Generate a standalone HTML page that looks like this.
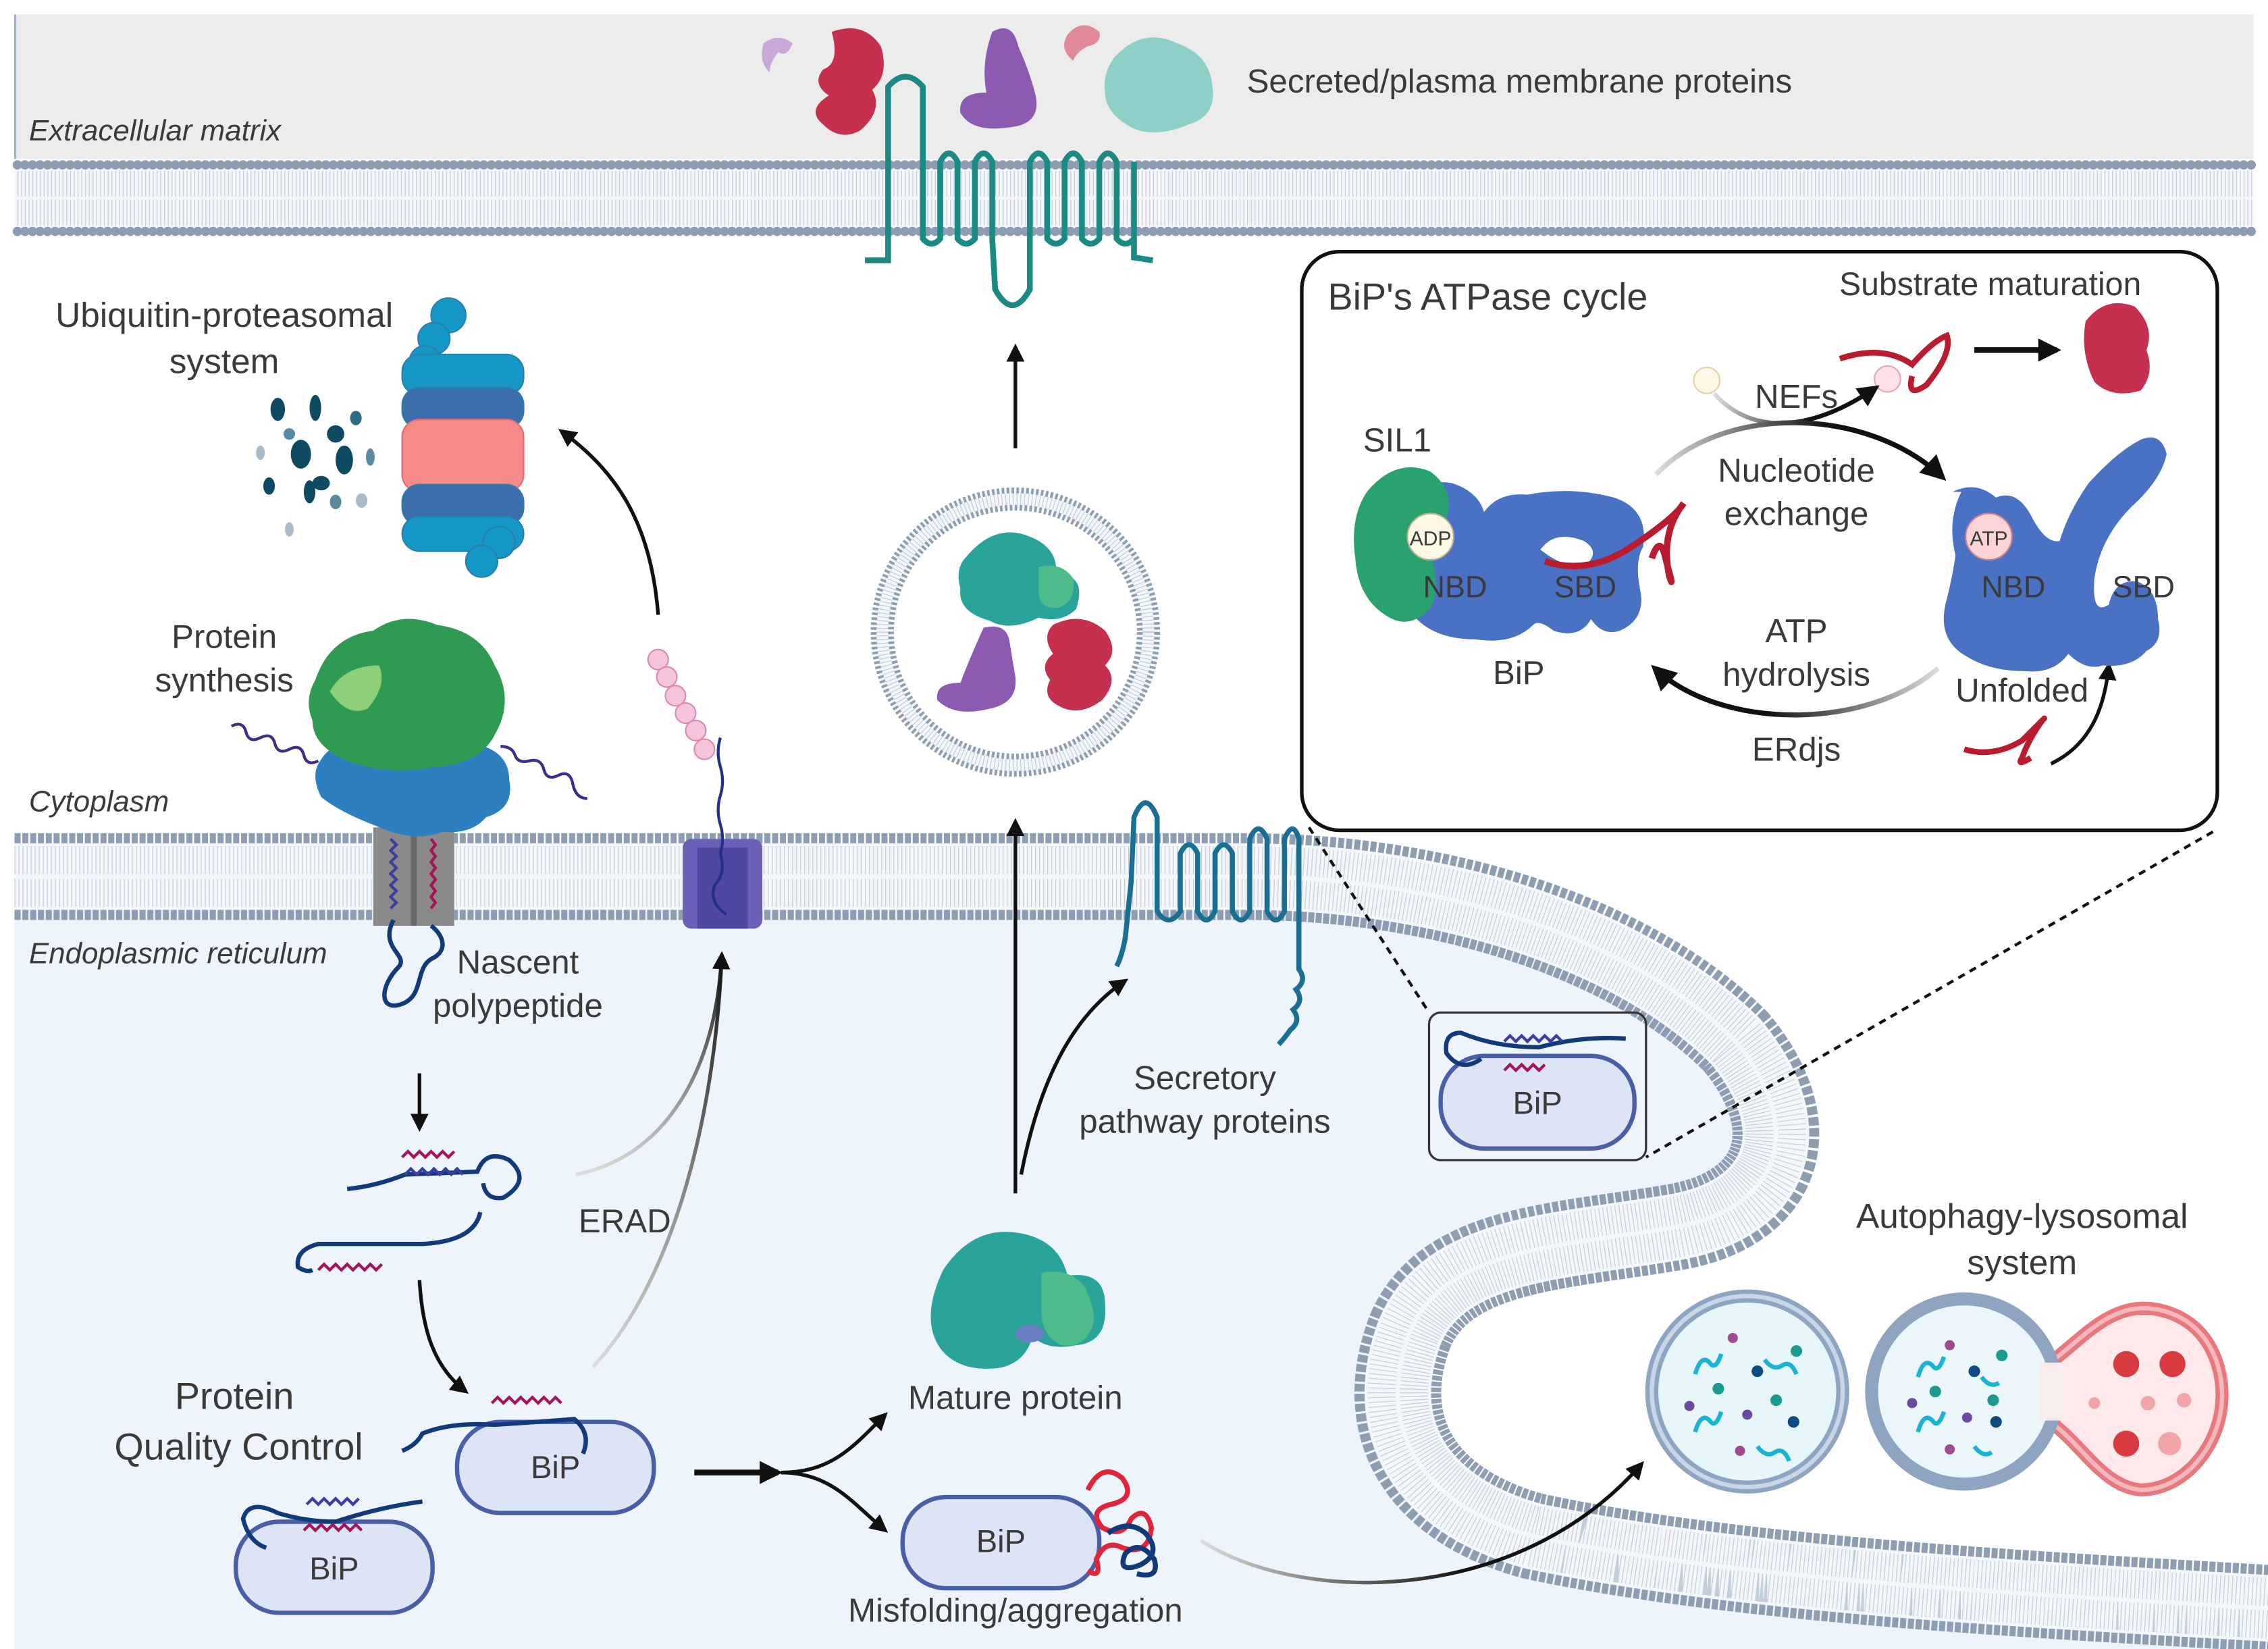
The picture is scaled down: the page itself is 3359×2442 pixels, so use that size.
<!DOCTYPE html>
<html><head><meta charset="utf-8"><style>
html,body{margin:0;padding:0;background:#fff;}
svg{display:block;}
text{font-family:"Liberation Sans",sans-serif;fill:#3a3a3a;}
</style></head><body>
<svg width="3359" height="2442" viewBox="0 0 1568 1140" xmlns="http://www.w3.org/2000/svg">
<defs>
<marker id="ah" viewBox="0 0 10 10" refX="8" refY="5" markerWidth="5" markerHeight="5" orient="auto"><path d="M0,0 L10,5 L0,10 Z" fill="#111"/></marker>
<marker id="ahs" viewBox="0 0 10 10" refX="8" refY="5" markerWidth="4" markerHeight="4" orient="auto"><path d="M0,0 L10,5 L0,10 Z" fill="#111"/></marker>
<linearGradient id="gfade" x1="0" y1="1" x2="0" y2="0"><stop offset="0" stop-color="#ddd"/><stop offset="1" stop-color="#111"/></linearGradient>
<linearGradient id="gfadeL" x1="0" y1="0" x2="1" y2="0"><stop offset="0" stop-color="#ddd"/><stop offset="0.6" stop-color="#111"/></linearGradient>
<linearGradient id="gfadeR" x1="1" y1="0" x2="0" y2="0"><stop offset="0" stop-color="#ddd"/><stop offset="0.6" stop-color="#111"/></linearGradient>
<path id="erm" d="M10,606 L860,606 C1000,606 1130,650 1200,720 C1250,780 1230,835 1160,848 C1080,862 1000,862 975,920 C950,985 980,1040 1060,1062 C1200,1092 1400,1102 1570,1112"/>
</defs>
<rect width="1568" height="1140" fill="#fff"/>
<rect x="10" y="10" width="1548" height="100" fill="#ececec"/>
<line x1="10.5" y1="10" x2="10.5" y2="110" stroke="#9db0d8" stroke-width="1.5"/>
<path d="M10,606 L860,606 C1000,606 1130,650 1200,720 C1250,780 1230,835 1160,848 C1080,862 1000,862 975,920 C950,985 980,1040 1060,1062 C1200,1092 1400,1102 1570,1112 L1570,1140 L10,1140 Z" fill="#eef4fb"/>
<!-- plasma membrane -->
<rect x="10" y="112" width="1548" height="50" fill="#f4f6f9"/>
<line x1="12" y1="114" x2="1558" y2="114" stroke="#8d9eb3" stroke-width="6.5" stroke-dasharray="0 5.2" stroke-linecap="round"/>
<line x1="12" y1="160" x2="1558" y2="160" stroke="#8d9eb3" stroke-width="6.5" stroke-dasharray="0 5.2" stroke-linecap="round"/>
<line x1="12" y1="127" x2="1558" y2="127" stroke="#c3cedc" stroke-width="18" stroke-dasharray="0.6 2"/>
<line x1="12" y1="147" x2="1558" y2="147" stroke="#c3cedc" stroke-width="18" stroke-dasharray="0.6 2"/>
<!-- ER membrane -->
<g fill="none">
<use href="#erm" stroke="#8d9eb3" stroke-width="60" stroke-dasharray="4.2 1.2"/>
<use href="#erm" stroke="#f4f7fa" stroke-width="46"/>
<use href="#erm" stroke="#c3cedc" stroke-width="42" stroke-dasharray="0.6 2.2"/>
<use href="#erm" stroke="#f4f7fa" stroke-width="3"/>
</g>
<path d="M598,180 L614,180 L614,112 L614,60 Q626,46 638,60 L638,112 L638,165 Q644,172 650,165 L650,112 Q656,100 662,112 L662,165 Q668,172 674,165 L674,112 Q680,100 686,112 L686,165 L688,200 Q700,222 712,200 L712,165 L712,112 Q718,100 724,112 L724,165 Q730,172 736,165 L736,112 Q742,100 748,112 L748,165 Q754,172 760,165 L760,112 Q766,100 772,112 L772,165 Q778,172 784,165 L784,112 L784,178 L797,180" fill="none" stroke="#1b8a83" stroke-width="4"/>
<path d="M528,30 q10,-8 20,0 q-4,10 -10,6 q-6,8 -6,14 q-8,-8 -4,-20z" fill="#c9a7d6"/>
<path d="M575,22 q22,-8 34,10 q6,20 -6,30 q8,14 -8,28 q-14,8 -26,-4 q-12,-10 4,-20 q-12,-8 -4,-18 q12,-4 6,-26z" fill="#c5304f"/>
<path d="M686,22 q14,-8 18,10 q8,18 12,34 q4,20 -18,22 q-26,4 -34,-10 q-2,-14 18,-14 q-4,-20 4,-42z" fill="#8c5ab0"/>
<path d="M738,24 q10,-12 22,-2 q2,8 -8,10 q-8,4 -10,10 q-10,-8 -4,-18z" fill="#e08a99"/>
<path d="M770,40 q20,-22 44,-10 q22,8 24,28 q4,22 -16,28 q-24,10 -40,2 q-18,-10 -18,-24 q-2,-12 6,-24z" fill="#8ecfc8"/>
<text x="862" y="64" font-size="23">Secreted/plasma membrane proteins</text>
<text x="20" y="97" font-size="20.5" font-style="italic">Extracellular matrix</text>
<circle cx="702" cy="437" r="98" fill="#f4f7fa" stroke="#8d9eb3" stroke-width="4" stroke-dasharray="1.8 1.6"/>
<circle cx="702" cy="437" r="92" fill="none" stroke="#c3cedc" stroke-width="8" stroke-dasharray="0.6 2"/>
<circle cx="702" cy="437" r="86" fill="#fff" stroke="#8d9eb3" stroke-width="4" stroke-dasharray="1.8 1.6"/>
<path d="M668,385 q20,-24 44,-14 q20,8 18,26 q22,0 14,24 q-10,10 -26,6 q-20,10 -34,2 q-22,-6 -20,-22 q-4,-14 4,-22z" fill="#2aa39b"/>
<path d="M718,392 q16,-4 24,8 q2,16 -10,20 q-14,2 -14,-12z" fill="#4dbb8a"/>
<path d="M680,434 q16,-4 18,10 q2,12 4,24 q2,18 -18,22 q-24,6 -36,-6 q-2,-12 16,-12 q6,-16 16,-38z" fill="#8c5ab0"/>
<path d="M728,432 q20,-10 36,4 q10,14 0,24 q10,10 -2,24 q-16,12 -30,4 q-12,-6 -6,-18 q-8,-10 2,-18 q-8,-12 0,-20z" fill="#c5304f"/>
<line x1="702" y1="310" x2="702" y2="240" stroke="#111" stroke-width="2.5" marker-end="url(#ah)"/>
<line x1="702" y1="825" x2="702" y2="568" stroke="#111" stroke-width="2.5" marker-end="url(#ah)"/>
<path d="M706,812 C720,740 745,700 778,678" fill="none" stroke="#111" stroke-width="2.5" marker-end="url(#ah)"/>
<g stroke="#2a7fa8" stroke-width="1">
<circle cx="310" cy="218" r="12" fill="#1598c8"/><circle cx="300" cy="234" r="11" fill="#1598c8"/><circle cx="294" cy="250" r="11" fill="#1598c8"/>
<rect x="278" y="245" width="84" height="28" rx="12" fill="#1598c8"/>
<rect x="278" y="268" width="84" height="28" rx="12" fill="#3c6eae"/>
<rect x="278" y="290" width="84" height="50" rx="12" fill="#f58a86" stroke="#e06c70"/>
<rect x="278" y="335" width="84" height="28" rx="12" fill="#3c6eae"/>
<rect x="278" y="357" width="84" height="24" rx="12" fill="#1598c8"/>
<circle cx="345" cy="375" r="11" fill="#1598c8"/><circle cx="333" cy="388" r="11" fill="#1598c8"/>
</g>
<g fill="#0f4a63">
<ellipse cx="192" cy="283" rx="5" ry="8"/><ellipse cx="218" cy="282" rx="4" ry="9"/><ellipse cx="232" cy="300" rx="6" ry="6"/><ellipse cx="208" cy="314" rx="7" ry="10"/><ellipse cx="238" cy="318" rx="6" ry="10"/><ellipse cx="222" cy="334" rx="6" ry="5"/><ellipse cx="186" cy="336" rx="4" ry="6"/><ellipse cx="214" cy="340" rx="4" ry="8"/>
<ellipse cx="246" cy="289" rx="4" ry="5" fill="#2f6a86"/><ellipse cx="200" cy="300" rx="4" ry="4" fill="#5b8aa0"/><ellipse cx="232" cy="347" rx="4" ry="5" fill="#5b8aa0"/><ellipse cx="180" cy="313" rx="3" ry="5" fill="#a8bac8"/><ellipse cx="250" cy="346" rx="4" ry="5" fill="#a8bac8"/><ellipse cx="200" cy="366" rx="3" ry="5" fill="#a8bac8"/><ellipse cx="256" cy="316" rx="3" ry="6" fill="#5b8aa0"/>
</g>
<text x="155" y="226" font-size="24" text-anchor="middle">Ubiquitin-proteasomal</text>
<text x="155" y="258" font-size="24" text-anchor="middle">system</text>
<path d="M455,425 C450,360 425,325 388,298" fill="none" stroke="#111" stroke-width="2.5" marker-end="url(#ah)"/>
<rect x="258" y="572" width="56" height="68" fill="#8a8a8a"/>
<rect x="284" y="572" width="4" height="68" fill="#6a6a6a"/>
<path d="M270,580 l4,4 -4,4 4,4 -4,4 4,4 -4,4 4,4 -4,4 4,4 -4,4 4,4 -4,4" fill="none" stroke="#3c3ea0" stroke-width="2"/>
<path d="M298,580 l3,4 -3,4 3,4 -3,4 3,4 -3,4 3,4 -3,4 3,4 -3,4 3,4 -3,4" fill="none" stroke="#a4145a" stroke-width="2"/>
<path d="M272,636 C262,655 282,660 276,668 C262,682 262,700 278,694 C294,688 286,668 300,662 C310,656 306,646 298,640" fill="none" stroke="#123a7a" stroke-width="3"/>
<path d="M222,525 q10,-16 40,-14 q30,-8 60,2 q30,4 30,26 q4,20 -16,26 q-10,12 -30,10 q-20,8 -46,-4 q-26,-10 -38,-20 q-8,-16 0,-26z" fill="#2e7fbf"/>
<path d="M218,470 q10,-30 40,-34 q20,-14 44,-4 q30,4 40,28 q14,24 0,48 q-10,20 -40,22 q-30,6 -56,-2 q-30,-10 -30,-30 q-6,-14 2,-28z" fill="#2f9a52"/>
<path d="M228,478 q10,-18 34,-18 q6,14 -8,30 q-14,6 -26,-12z" fill="#8ed07a"/>
<path d="M160,502 q8,-4 10,4 t10,4 t10,4 t10,4 t10,4 t10,4" fill="none" stroke="#3c2e8a" stroke-width="2"/>
<path d="M346,516 q8,0 10,6 t10,4 t10,6 t10,4 t10,6 t10,10" fill="none" stroke="#3c2e8a" stroke-width="2"/>
<text x="155" y="448" font-size="23" text-anchor="middle">Protein</text>
<text x="155" y="478" font-size="23" text-anchor="middle">synthesis</text>
<text x="20" y="561" font-size="20.5" font-style="italic">Cytoplasm</text>
<text x="20" y="666" font-size="20.5" font-style="italic">Endoplasmic reticulum</text>
<text x="358" y="673" font-size="23" text-anchor="middle">Nascent</text>
<text x="358" y="703" font-size="23" text-anchor="middle">polypeptide</text>
<rect x="472" y="580" width="55" height="62" rx="6" fill="#6b62b8"/>
<rect x="482" y="586" width="35" height="56" fill="#4f48a0"/>
<path d="M498,510 q-3,10 0,20 t0,20 t0,20 t0,20 q4,14 -4,22 q-4,12 8,20" fill="none" stroke="#23308a" stroke-width="2"/>
<g fill="#f4c4dc" stroke="#d98ab0" stroke-width="1"><circle cx="455" cy="456" r="7"/><circle cx="461" cy="468" r="7"/><circle cx="467" cy="481" r="7"/><circle cx="474" cy="493" r="7"/><circle cx="481" cy="505" r="7"/><circle cx="487" cy="518" r="7"/></g>
<path d="M398,812 C460,800 495,740 499,660" fill="none" stroke="url(#gfade)" stroke-width="2.5"/>
<path d="M410,945 C470,880 495,760 499,660" fill="none" stroke="url(#gfade)" stroke-width="2.5" marker-end="url(#ah)"/>
<text x="400" y="852" font-size="23">ERAD</text>
<line x1="290" y1="742" x2="290" y2="780" stroke="#111" stroke-width="2.5" marker-end="url(#ah)"/>
<path d="M290,885 C292,920 300,945 322,962" fill="none" stroke="#111" stroke-width="2.5" marker-end="url(#ah)"/>
<path d="M240,822 q20,-2 40,-10 l50,-2 q6,-16 22,-8 q16,14 -4,26 q-12,2 -14,-10" fill="none" stroke="#123a7a" stroke-width="3"/>
<path d="M280,812 l4,-4 4,4 4,-4 4,4 4,-4 4,4 4,-4 4,4 4,-4 4,4" fill="none" stroke="#3c3ea0" stroke-width="2"/>
<path d="M278,800 l4,-4 4,4 4,-4 4,4 4,-4 4,4 4,-4 4,4 4,-4" fill="none" stroke="#a4145a" stroke-width="2"/>
<path d="M332,838 q-4,20 -40,22 q-40,0 -72,0 q-16,4 -14,16 q6,4 10,2" fill="none" stroke="#123a7a" stroke-width="3"/>
<path d="M220,878 l4,-4 4,4 4,-4 4,4 4,-4 4,4 4,-4 4,4 4,-4 4,4 4,-4" fill="none" stroke="#a4145a" stroke-width="2"/>
<g fill="#dde4f6" stroke="#4a5ea8" stroke-width="3">
<rect x="316" y="983" width="136" height="63" rx="30"/>
<rect x="163" y="1052" width="136" height="63" rx="30"/>
<rect x="624" y="1035" width="136" height="63" rx="30"/>
<rect x="996" y="730" width="134" height="64" rx="30"/>
</g>
<text x="384" y="1022" font-size="22" text-anchor="middle" fill="#222">BiP</text>
<text x="231" y="1092" font-size="22" text-anchor="middle" fill="#222">BiP</text>
<text x="692" y="1073" font-size="22" text-anchor="middle" fill="#222">BiP</text>
<text x="1063" y="770" font-size="22" text-anchor="middle" fill="#222">BiP</text>
<path d="M278,1003 q10,-4 14,-12 q20,-8 50,-6 q30,-2 55,-4 q12,10 6,24" fill="none" stroke="#123a7a" stroke-width="3"/>
<path d="M340,970 l4,-4 4,4 4,-4 4,4 4,-4 4,4 4,-4 4,4 4,-4 4,4 4,-4 4,4" fill="none" stroke="#a4145a" stroke-width="2"/>
<path d="M292,1038 q-30,4 -60,14 q-20,0 -40,-6 q-20,-10 -24,4 q4,16 16,20" fill="none" stroke="#123a7a" stroke-width="3"/>
<path d="M212,1040 l4,-4 4,4 4,-4 4,4 4,-4 4,4 4,-4 4,4 4,-4" fill="none" stroke="#3c3ea0" stroke-width="2"/>
<path d="M210,1058 l4,-4 4,4 4,-4 4,4 4,-4 4,4 4,-4 4,4 4,-4 4,4" fill="none" stroke="#a4145a" stroke-width="2"/>
<path d="M1124,718 q-30,-2 -60,6 q-30,0 -54,-10 q-12,0 -10,14 q10,14 24,4" fill="none" stroke="#123a7a" stroke-width="3"/>
<path d="M1040,720 l4,-4 4,4 4,-4 4,4 4,-4 4,4 4,-4 4,4 4,-4 4,4" fill="none" stroke="#3c3ea0" stroke-width="2"/>
<path d="M1040,740 l4,-4 4,4 4,-4 4,4 4,-4 4,4 4,-4" fill="none" stroke="#a4145a" stroke-width="2"/>
<rect x="988" y="700" width="150" height="102" rx="8" fill="none" stroke="#333" stroke-width="1.5"/>
<text x="162" y="974" font-size="26" text-anchor="middle">Protein</text>
<text x="165" y="1009" font-size="26" text-anchor="middle">Quality Control</text>
<line x1="480" y1="1018" x2="538" y2="1018" stroke="#111" stroke-width="4" marker-end="url(#ahs)"/>
<path d="M540,1018 C575,1018 590,1000 612,978" fill="none" stroke="#111" stroke-width="2.5" marker-end="url(#ah)"/>
<path d="M540,1018 C575,1018 590,1040 612,1058" fill="none" stroke="#111" stroke-width="2.5" marker-end="url(#ah)"/>
<path d="M830,1065 C900,1110 1050,1110 1135,1012" fill="none" stroke="url(#gfadeL)" stroke-width="2.5" marker-end="url(#ah)"/>
<path d="M652,878 q20,-30 50,-26 q30,4 36,30 q26,-4 26,20 q2,26 -20,28 q-20,4 -30,-6 q-6,20 -26,22 q-26,2 -38,-14 q-14,-20 2,-54z" fill="#2aa39b"/>
<path d="M720,880 q20,-4 30,10 q10,20 4,30 q-6,12 -20,10 q-14,-6 -14,-24z" fill="#4dbb8a"/>
<ellipse cx="712" cy="922" rx="10" ry="6" fill="#6b7fc4"/>
<text x="702" y="974" font-size="23" text-anchor="middle">Mature protein</text>
<text x="702" y="1121" font-size="23" text-anchor="middle">Misfolding/aggregation</text>
<path d="M752,1030 q10,-20 24,-8 q10,14 -8,18 q-16,4 -6,16 q14,8 20,-6 q10,-10 14,6 q-2,20 -20,14 q-12,-6 -18,8 q4,14 -6,8" fill="none" stroke="#e0243a" stroke-width="3.5"/>
<path d="M766,1060 q14,-10 26,0 q12,14 -4,22 q-16,6 -10,-8 q10,-10 20,4 q4,14 -12,10" fill="none" stroke="#123a7a" stroke-width="3.5"/>
<path d="M772,668 q4,-8 6,-20 L782,610 L784,565 Q792,545 800,565 L800,630 Q808,642 816,630 L816,590 Q822,578 828,590 L828,630 Q834,642 840,630 L840,590 Q846,578 852,590 L852,630 Q858,642 864,630 L864,580 Q870,566 876,580 L876,630 Q882,642 888,630 L888,580 Q894,566 898,580 L898,670 q6,8 -2,14 q6,8 -2,14 q6,8 -2,14 q-4,6 -8,10" fill="none" stroke="#1b6e93" stroke-width="3.5"/>
<text x="833" y="753" font-size="23" text-anchor="middle">Secretory</text>
<text x="833" y="783" font-size="23" text-anchor="middle">pathway proteins</text>
<line x1="905" y1="572" x2="988" y2="700" stroke="#111" stroke-width="2" stroke-dasharray="5 4"/>
<line x1="1530" y1="575" x2="1138" y2="800" stroke="#111" stroke-width="2" stroke-dasharray="5 4"/>
<circle cx="1208" cy="962" r="66" fill="#e6f6fb" stroke="#8fa4c0" stroke-width="9"/>
<circle cx="1208" cy="962" r="66" fill="none" stroke="#c8d6e8" stroke-width="3"/>
<path d="M1420,940 C1440,925 1460,900 1490,905 C1530,912 1538,950 1536,970 C1534,1000 1510,1030 1480,1030 C1455,1028 1440,1000 1420,985 Z" fill="#fde9ea" stroke="#e7787e" stroke-width="9"/>
<path d="M1420,940 C1440,925 1460,900 1490,905 C1530,912 1538,950 1536,970 C1534,1000 1510,1030 1480,1030 C1455,1028 1440,1000 1420,985" fill="none" stroke="#f4b8bc" stroke-width="3"/>
<circle cx="1358" cy="962" r="64" fill="#eaf6fa" stroke="#8fa4c0" stroke-width="9"/>
<rect x="1410" y="942" width="22" height="40" fill="#f8eced"/>
<g fill="#0f4a80"><circle cx="1215" cy="948" r="4"/><circle cx="1240" cy="983" r="4"/><circle cx="1365" cy="948" r="4"/><circle cx="1380" cy="983" r="4"/></g>
<g fill="#1b9a90"><circle cx="1242" cy="934" r="4"/><circle cx="1188" cy="960" r="4"/><circle cx="1228" cy="968" r="4"/><circle cx="1384" cy="937" r="4"/><circle cx="1338" cy="962" r="4"/><circle cx="1378" cy="968" r="4"/></g>
<g fill="#6a4aa0"><circle cx="1168" cy="972" r="3.5"/><circle cx="1208" cy="978" r="3.5"/><circle cx="1322" cy="970" r="3.5"/><circle cx="1360" cy="980" r="3.5"/></g>
<g fill="#a04a90"><circle cx="1198" cy="925" r="3.5"/><circle cx="1203" cy="1003" r="3.5"/><circle cx="1348" cy="930" r="3.5"/><circle cx="1348" cy="1002" r="3.5"/></g>
<g fill="none" stroke="#1bb4d0" stroke-width="3"><path d="M1172,950 q4,-14 10,-8 q4,6 8,-6"/><path d="M1172,990 q4,-14 10,-8 q4,6 8,-6"/><path d="M1220,940 q6,8 12,4 q6,-4 10,6"/><path d="M1215,1000 q6,8 12,4 q6,-4 10,6"/><path d="M1326,952 q4,-14 10,-8 q4,6 8,-6"/><path d="M1326,990 q4,-14 10,-8 q4,6 8,-6"/><path d="M1370,952 q6,8 12,4"/><path d="M1365,1000 q6,8 12,4"/></g>
<g fill="#d93c40"><circle cx="1470" cy="943" r="9"/><circle cx="1502" cy="943" r="9"/><circle cx="1470" cy="998" r="9"/></g>
<g fill="#f2a5a8"><circle cx="1448" cy="970" r="4"/><circle cx="1485" cy="970" r="5"/><circle cx="1510" cy="968" r="5"/><circle cx="1500" cy="998" r="8"/></g>
<text x="1398" y="849" font-size="24" text-anchor="middle">Autophagy-lysosomal</text>
<text x="1398" y="881" font-size="24" text-anchor="middle">system</text>
<rect x="900" y="174" width="633" height="400" rx="26" fill="#fff" stroke="#111" stroke-width="2.5"/>
<text x="918" y="214" font-size="26" fill="#222">BiP's ATPase cycle</text>
<text x="1376" y="204" font-size="22.5" text-anchor="middle">Substrate maturation</text>
<path d="M1272,248 q30,-10 50,4 q14,-16 24,-20 q4,12 -14,34 q-14,10 -10,-6" fill="none" stroke="#b81c2e" stroke-width="4"/>
<line x1="1365" y1="242" x2="1422" y2="242" stroke="#111" stroke-width="4" marker-end="url(#ahs)"/>
<path d="M1442,222 q14,-18 34,-10 q14,14 8,30 q6,16 -4,28 q-20,6 -32,-6 q-10,-20 -6,-42z" fill="#c5304f"/>
<circle cx="1180" cy="263" r="9" fill="#fdf8e6" stroke="#ddd2a6"/>
<circle cx="1305" cy="262" r="9" fill="#fde2e6" stroke="#e8a6b0"/>
<path d="M1185,272 C1210,300 1250,300 1297,268" fill="none" stroke="url(#gfadeL)" stroke-width="3" marker-end="url(#ah)"/>
<path d="M1145,328 C1190,280 1290,280 1343,330" fill="none" stroke="url(#gfadeL)" stroke-width="3.5" marker-end="url(#ah)"/>
<path d="M1340,462 C1290,505 1190,505 1144,462" fill="none" stroke="url(#gfadeR)" stroke-width="3.5" marker-end="url(#ah)"/>
<path d="M1418,528 C1445,515 1455,490 1458,460" fill="none" stroke="#111" stroke-width="2.5" marker-end="url(#ah)"/>
<path d="M1358,518 q20,6 40,-6 q20,-20 14,-14 q-10,14 -14,26 q-4,6 6,0" fill="none" stroke="#b81c2e" stroke-width="4"/>
<text x="1242" y="282" font-size="23" text-anchor="middle">NEFs</text>
<text x="966" y="312" font-size="23" text-anchor="middle" fill="#222">SIL1</text>
<text x="1242" y="333" font-size="23" text-anchor="middle">Nucleotide</text>
<text x="1242" y="363" font-size="23" text-anchor="middle">exchange</text>
<text x="1242" y="444" font-size="23" text-anchor="middle">ATP</text>
<text x="1242" y="474" font-size="23" text-anchor="middle">hydrolysis</text>
<text x="1050" y="473" font-size="23" text-anchor="middle" fill="#222">BiP</text>
<text x="1398" y="485" font-size="23" text-anchor="middle">Unfolded</text>
<text x="1242" y="526" font-size="23" text-anchor="middle">ERdjs</text>
<path d="M960,350 q20,-20 44,-16 q18,6 22,20 q10,-14 30,-12 q30,-6 60,2 q24,8 20,34 q-6,10 -2,30 q4,20 -14,28 q-12,4 -20,-8 q-8,14 -26,8 q-10,-8 -14,-4 q-14,14 -40,10 q-30,0 -44,-18 q-16,-22 -16,-74z" fill="#4a72c4"/>
<path d="M1065,380 q10,-14 30,-6 q10,6 4,14 q-14,8 -34,-8z" fill="#fff"/>
<path d="M945,340 q20,-24 44,-14 q16,12 12,30 q-12,14 -10,34 q4,20 -2,30 q-14,16 -30,6 q-20,-12 -22,-40 q-4,-28 8,-46z" fill="#29a26f"/>
<circle cx="989" cy="371" r="16" fill="#fdf8e6" stroke="#b8b090"/>
<text x="989" y="377" font-size="14" text-anchor="middle" fill="#222">ADP</text>
<path d="M1068,388 q30,10 60,-10 q30,-20 36,-30 q-16,20 -10,50 q4,12 -2,-10 q-4,-20 -10,-2" fill="none" stroke="#b81c2e" stroke-width="4.5"/>
<text x="1006" y="413" font-size="21" text-anchor="middle" fill="#fff">NBD</text>
<text x="1096" y="413" font-size="21" text-anchor="middle" fill="#fff">SBD</text>
<path d="M1350,340 q16,-8 30,4 q14,-6 24,12 q10,20 20,18 q6,-20 20,-40 q20,-22 36,-30 q14,-6 18,10 q-4,18 -24,36 q-22,22 -26,50 q-2,26 10,18 q4,-18 20,-16 q14,6 14,26 q4,16 -8,22 q-10,12 -30,10 q-12,4 -24,-8 q-10,14 -30,12 q-24,0 -40,-10 q-22,-12 -14,-40 q4,-16 6,-30 q-6,-24 4,-44z" fill="#4a72c4"/>
<circle cx="1375" cy="371" r="16" fill="#fdd4d6" stroke="#d08088"/>
<text x="1375" y="377" font-size="14" text-anchor="middle" fill="#222">ATP</text>
<text x="1392" y="413" font-size="21" text-anchor="middle" fill="#fff">NBD</text>
<text x="1482" y="413" font-size="21" text-anchor="middle" fill="#fff">SBD</text>
</svg>
</body></html>
